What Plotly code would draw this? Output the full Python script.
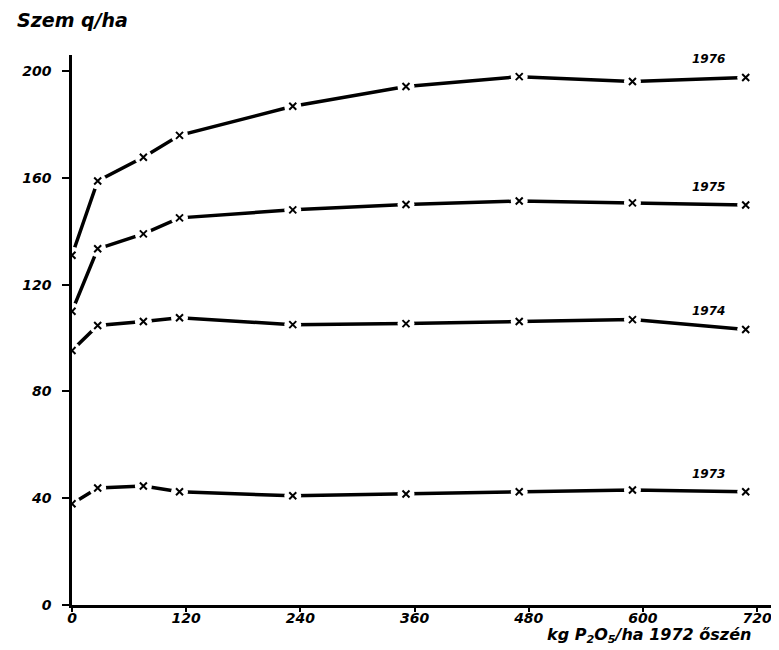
import plotly.graph_objects as go

# ---- data ----
dose_kg = [0, 27, 75, 113, 232, 351, 470, 589, 708]
y1976 = [131, 158.8, 167.7, 175.9, 186.8, 194.2, 197.9, 196.1, 197.6]
y1975 = [110, 133.4, 139.0, 145.0, 148.0, 150.0, 151.3, 150.6, 149.8]
y1974 = [95.3, 104.7, 106.2, 107.6, 105.0, 105.4, 106.2, 106.9, 103.2]
y1973 = [37.9, 43.8, 44.6, 42.4, 40.9, 41.6, 42.4, 43.1, 42.4]
series_names = ["1976", "1975", "1974", "1973"]
series_values = [y1976, y1975, y1974, y1973]
x_ticks = [0, 120, 240, 360, 480, 600, 720]
y_ticks = [0, 40, 80, 120, 160, 200]

FONT = "DejaVu Sans"
fig = go.Figure()

for name, vals in zip(series_names, series_values):
    # line, with white discs at the points so the line shows gaps around markers
    fig.add_trace(go.Scatter(
        x=dose_kg, y=vals, mode="lines+markers",
        line=dict(color="black", width=3.5),
        marker=dict(symbol="circle", size=17, color="white", line=dict(width=0)),
        showlegend=False, hoverinfo="skip"))
    fig.add_trace(go.Scatter(
        x=dose_kg, y=vals, mode="markers", name=name,
        marker=dict(symbol="x-thin", size=7, line=dict(color="black", width=2)),
        showlegend=False))
    fig.add_annotation(x=dose_kg[-1], y=vals[-1], text=name, showarrow=False,
                       xshift=-37, yshift=18,
                       font=dict(family=FONT, size=12, color="black",
                                 style="italic", weight="bold"))

fig.add_annotation(xref="paper", yref="paper", x=-0.081, y=1.064,
                   xanchor="left", yanchor="middle", showarrow=False,
                   text="Szem q/ha",
                   font=dict(family=FONT, size=19, color="black",
                             style="italic", weight="bold"))
fig.add_annotation(xref="paper", yref="paper", x=0.963, y=-0.055,
                   xanchor="right", yanchor="middle", showarrow=False,
                   text="kg P<sub>2</sub>O<sub>5</sub>/ha 1972 őszén",
                   font=dict(family=FONT, size=16, color="black",
                             style="italic", weight="bold"))

fig.update_xaxes(range=[0, 743], tickvals=x_ticks, ticks="outside", ticklen=4,
                 tickwidth=2, tickcolor="black", showline=True, linecolor="black",
                 linewidth=2.5, showgrid=False, zeroline=False, ticklabelstandoff=-6,
                 tickfont=dict(family=FONT, size=14, color="black",
                               style="italic", weight="bold"))
fig.update_yaxes(range=[0, 206], tickvals=y_ticks, ticks="outside", ticklen=7,
                 tickwidth=2, tickcolor="black", showline=True, linecolor="black",
                 linewidth=2.5, showgrid=False, zeroline=False, ticklabelstandoff=8,
                 tickfont=dict(family=FONT, size=14, color="black",
                               style="italic", weight="bold"))

# page body has an 8px default margin, compensate so the plot area sits where the reference has it
fig.update_layout(width=779, height=650, plot_bgcolor="white", paper_bgcolor="white",
                  margin=dict(l=64, r=8, t=47, b=53))

fig.write_html("out.html")
